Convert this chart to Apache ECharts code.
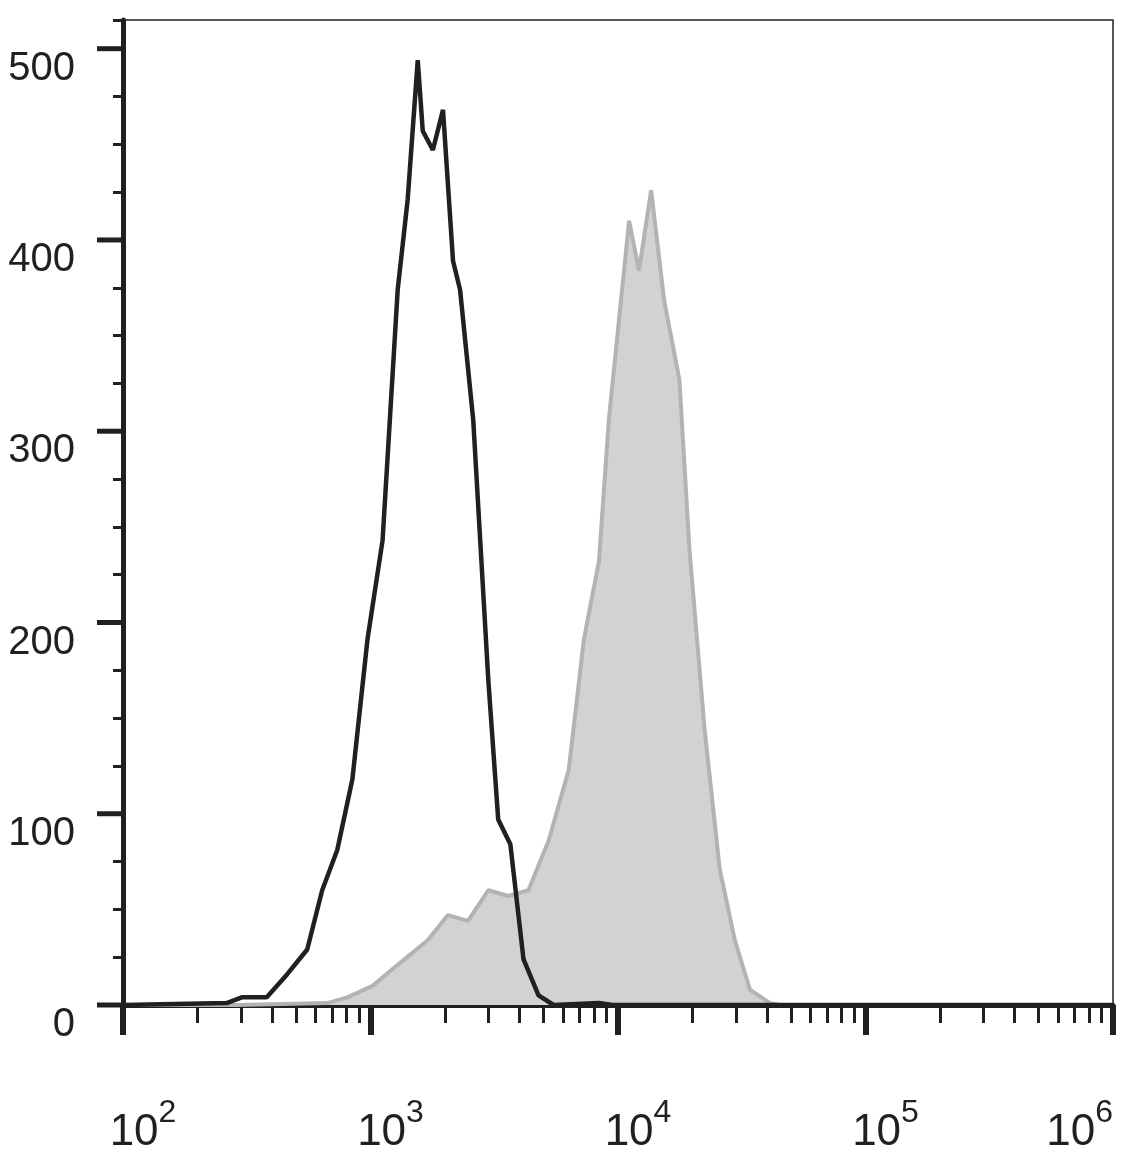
<!DOCTYPE html>
<html>
<head>
<meta charset="utf-8">
<script src="https://cdn.jsdelivr.net/npm/echarts@6/dist/echarts.min.js"></script>
<style>html,body{margin:0;padding:0;background:#fff}#chart{width:1144px;height:1166px}</style>
</head>
<body>
<div id="chart"></div>
<script>
// black outline histogram: [intensity, count]
var controlData = [
  [100, 0], [262, 1], [302, 4], [381, 4], [460, 16], [555, 29], [638, 60], [734, 81],
  [845, 118], [972, 191], [1119, 243], [1288, 374], [1413, 421], [1552, 494], [1626, 457],
  [1787, 447], [1963, 468], [2155, 389], [2301, 374], [2600, 306], [2992, 170], [3281, 97],
  [3673, 84], [4150, 24], [4775, 5], [5495, 0], [8375, 1], [9500, 0], [1000000, 0]
];
// grey filled histogram
var stainedData = [
  [100, 0], [288, 0], [668, 1], [807, 4], [1019, 10], [1288, 21], [1706, 34], [2056, 47],
  [2477, 44], [2992, 60], [3606, 57], [4345, 60], [5248, 86], [6324, 123], [7278, 191],
  [8375, 232], [9183, 306], [10090, 358], [11090, 410], [12160, 384], [13610, 426],
  [15380, 368], [17700, 327], [19450, 238], [22390, 144], [25770, 71], [29650, 34],
  [34120, 8], [41110, 1], [45080, 0], [1000000, 0]
];
var majorX = [100, 1000, 10000, 100000, 1000000];
var minorX = [200, 300, 400, 500, 600, 700, 800, 900, 2000, 3000, 4000, 5000, 6000, 7000, 8000, 9000,
  20000, 30000, 40000, 50000, 60000, 70000, 80000, 90000, 200000, 300000, 400000, 500000, 600000, 700000, 800000, 900000];
var yLabels = [0, 100, 200, 300, 400, 500];

var chart = echarts.init(document.getElementById('chart'));
var ink = '#231f20';
chart.setOption({
  animation: false,
  grid: { left: 123, right: 31, top: 20, bottom: 161, show: true, borderColor: ink, borderWidth: 1.5,
    containLabel: false, outerBoundsMode: 'none' },
  xAxis: [{
    type: 'log', min: 100, max: 1000000, logBase: 10,
    axisLine: { onZero: false, lineStyle: { color: ink, width: 5 } },
    axisTick: { customValues: majorX, length: 30, lineStyle: { color: ink, width: 6 } },
    splitLine: { show: false },
    axisLabel: {
      customValues: majorX, margin: 92, color: ink, padding: [0, 0, 0, 40],
      alignMaxLabel: 'right', hideOverlap: false,
      formatter: function (v) { return '{b|10}{s|' + Math.round(Math.log10(v)) + '}'; },
      rich: {
        b: { fontSize: 44, fontFamily: 'Liberation Sans', color: ink, verticalAlign: 'bottom' },
        s: { fontSize: 32, fontFamily: 'Liberation Sans', color: ink, verticalAlign: 'top', padding: [0, 0, 26, 0] }
      }
    }
  }, {
    type: 'log', min: 100, max: 1000000, logBase: 10, position: 'bottom',
    axisLine: { show: false },
    axisTick: { customValues: minorX, length: 18, lineStyle: { color: ink, width: 3 } },
    axisLabel: { show: false }, splitLine: { show: false }
  }],
  yAxis: {
    type: 'value', min: 0, max: 515, interval: 25,
    axisLine: { show: true, lineStyle: { color: ink, width: 5 } },
    axisTick: { show: true, length: 10, lineStyle: { color: ink, width: 3 } },
    splitLine: { show: false },
    axisLabel: {
      customValues: yLabels, margin: 48, color: ink, fontSize: 40, fontFamily: 'Liberation Sans',
      verticalAlign: 'top'
    }
  },
  series: [{
    type: 'line', xAxisIndex: 0, data: stainedData, symbol: 'none',
    lineStyle: { color: '#b3b3b3', width: 4 },
    areaStyle: { color: '#d2d2d2', opacity: 1 }, z: 1
  }, {
    type: 'line', xAxisIndex: 0, data: controlData, symbol: 'none',
    lineStyle: { color: ink, width: 4.5 }, z: 2
  }],
  graphic: yLabels.map(function (v) {
    return { type: 'line', z: 10, shape: { x1: 97, x2: 123, y1: 0, y2: 0 },
      position: [0, 1005 - v * 1.9126], style: { stroke: ink, lineWidth: 5 } };
  })
});
</script>
</body>
</html>
